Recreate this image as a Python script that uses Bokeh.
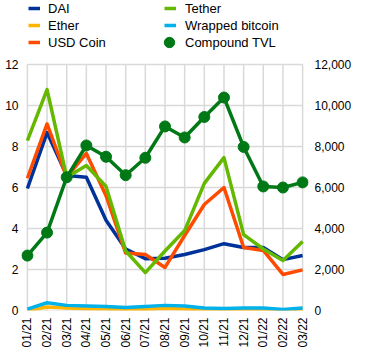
from bokeh.plotting import figure
from bokeh.models import (Range1d, LinearAxis, FixedTicker, NumeralTickFormatter,
                          Legend, LegendItem)
from bokeh.embed import file_html
from bokeh.resources import INLINE
import math

months = ["01/21", "02/21", "03/21", "04/21", "05/21", "06/21", "07/21", "08/21",
          "09/21", "10/21", "11/21", "12/21", "01/22", "02/22", "03/22"]
dai = [5.95, 8.68, 6.58, 6.5, 4.4, 3.0, 2.53, 2.55, 2.73, 2.97, 3.26, 3.07, 3.07, 2.48, 2.68]
ether = [0.0, 0.17, 0.12, 0.08, 0.07, 0.05, 0.06, 0.1, 0.07, 0.04, 0.04, 0.03, 0.04, 0.02, 0.05]
usd_coin = [6.45, 9.1, 6.5, 7.66, 5.6, 2.8, 2.73, 2.1, 3.66, 5.17, 6.0, 3.07, 2.93, 1.76, 1.98]
tether = [8.29, 10.78, 6.5, 7.07, 6.05, 2.9, 1.85, 2.9, 3.9, 6.2, 7.46, 3.7, 3.0, 2.44, 3.37]
wrapped_btc = [0.07, 0.38, 0.25, 0.22, 0.2, 0.15, 0.2, 0.25, 0.22, 0.12, 0.1, 0.12, 0.12, 0.05, 0.12]
compound_tvl = [2680, 3800, 6500, 8050, 7500, 6600, 7450, 8980, 8440, 9440, 10390, 7980, 6050, 6000, 6250]
left_ticks = [0, 2, 4, 6, 8, 10, 12]
right_ticks = [0, 2000, 4000, 6000, 8000, 10000, 12000]

x = list(range(len(months)))
n = len(months)
FONT = "Liberation Sans"
GRID = "#d9d9d9"

# frame spans the full height above the x labels; the value axes reach 12 at 64px from top
FRAME_H = 310
AXIS_H = 246
ytop = left_ticks[-1] * FRAME_H / AXIS_H
PAD = 0.3  # small side padding so the edge markers are not clipped

p = figure(width=366, height=355, output_backend="svg", toolbar_location=None,
           x_range=Range1d(-PAD, n - 1 + PAD), y_range=Range1d(0, ytop),
           min_border_top=0, min_border_left=21, min_border_right=58, min_border_bottom=45)
p.outline_line_color = None
p.extra_y_ranges = {"tvl": Range1d(0, right_ticks[-1] * FRAME_H / AXIS_H)}

# axes
p.xaxis.ticker = FixedTicker(ticks=x)
p.xaxis.major_label_overrides = {i: m for i, m in enumerate(months)}
p.xaxis.major_label_orientation = math.pi / 2
p.yaxis.ticker = FixedTicker(ticks=left_ticks)
right = LinearAxis(y_range_name="tvl", ticker=FixedTicker(ticks=right_ticks),
                   formatter=NumeralTickFormatter(format="0,0"))
p.add_layout(right, "right")
for ax in [p.xaxis[0], p.yaxis[0], right]:
    ax.axis_line_color = None
    ax.major_tick_line_color = None
    ax.minor_tick_line_color = None
    ax.major_tick_out = 0
    ax.major_tick_in = 0
    ax.major_label_text_font = FONT
    ax.major_label_text_font_size = "12px"
    ax.major_label_text_color = "#000000"
p.yaxis[0].major_label_standoff = 3
right.major_label_standoff = 6
p.xaxis[0].major_label_standoff = 7

p.xgrid.grid_line_color = None
p.ygrid.grid_line_color = None
# grid lines limited to the data extent
p.segment(x0=x, y0=[left_ticks[0]] * n, x1=x, y1=[left_ticks[-1]] * n,
          line_color=GRID, line_width=1.5)
p.segment(x0=[x[0]] * len(left_ticks), y0=left_ticks, x1=[x[-1]] * len(left_ticks), y1=left_ticks,
          line_color=GRID, line_width=1.5)

lw = 3.5
r_dai = p.line(x, dai, line_color="#003299", line_width=lw, line_join="round")
r_eth = p.line(x, ether, line_color="#FFB400", line_width=lw, line_join="round")
r_usd = p.line(x, usd_coin, line_color="#FF4B00", line_width=lw, line_join="round")
r_teth = p.line(x, tether, line_color="#65B800", line_width=lw, line_join="round")
r_wbtc = p.line(x, wrapped_btc, line_color="#00B1EA", line_width=lw, line_join="round")
p.line(x, compound_tvl, line_color="#007816", line_width=lw, line_join="round", y_range_name="tvl")
r_tvl = p.scatter(x, compound_tvl, size=11, fill_color="#007816", line_color="#007816",
                  y_range_name="tvl")


def mk_legend(items, loc, gw=12, gh=16, lh=16, standoff=8):
    lg = Legend(items=items, location=loc, orientation="vertical")
    lg.background_fill_alpha = 0
    lg.border_line_color = None
    lg.padding = 0
    lg.margin = 0
    lg.spacing = 1
    lg.glyph_width = gw
    lg.glyph_height = gh
    lg.label_height = lh
    lg.label_standoff = standoff
    lg.label_text_font = FONT
    lg.label_text_font_size = "13px"
    lg.label_text_color = "#000000"
    return lg


lg1 = mk_legend([LegendItem(label="DAI", renderers=[r_dai]),
                 LegendItem(label="Ether", renderers=[r_eth]),
                 LegendItem(label="USD Coin", renderers=[r_usd])], (7, FRAME_H - 50))
lg2 = mk_legend([LegendItem(label="Tether", renderers=[r_teth]),
                 LegendItem(label="Wrapped bitcoin", renderers=[r_wbtc])], (143, FRAME_H - 33), standoff=9)
lg3 = mk_legend([LegendItem(label="Compound TVL", renderers=[r_tvl])], (135, FRAME_H - 55),
                gw=26, gh=26, lh=26, standoff=3)
for lg in (lg1, lg2, lg3):
    p.add_layout(lg, "center")

open("out.html", "w").write(file_html(p, INLINE))
